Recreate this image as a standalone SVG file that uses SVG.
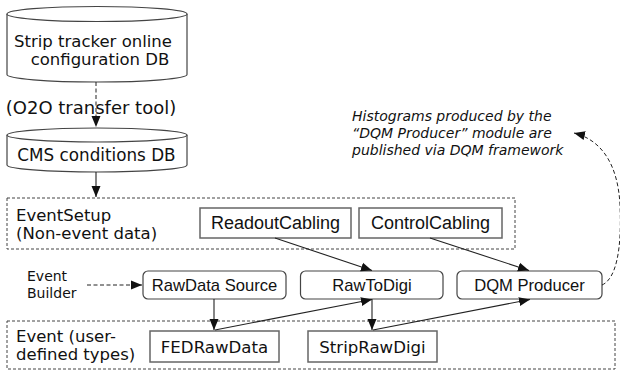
<svg xmlns="http://www.w3.org/2000/svg" width="620" height="371" viewBox="0 0 620 371">
<style>
.v{font-family:"DejaVu Sans","Verdana",sans-serif;fill:#111}
.a{font-family:"Liberation Sans","Arial",sans-serif;fill:#111}
.cyl{fill:#fff;stroke:#444;stroke-width:1.2}
.grp{fill:none;stroke:#444;stroke-width:1;stroke-dasharray:3,2}
.sq{fill:#fff;stroke:#666;stroke-width:1.5}
.rd{fill:#fff;stroke:#444;stroke-width:1.2}
.ln{fill:none;stroke:#222;stroke-width:1.1}
.ds{fill:none;stroke:#222;stroke-width:1;stroke-dasharray:4,2.5}
</style>
<defs>
<marker id="ah" markerUnits="userSpaceOnUse" markerWidth="12" markerHeight="10" refX="11" refY="5" orient="auto">
<path d="M0,0.5 L11,5 L0,9.5 z" fill="#111"/>
</marker>
</defs>

<g id="stripdb">
<path class="cyl" d="M7,14 L7,74.5 A90,7.5 0 0 0 187,74.5 L187,14"/>
<ellipse class="cyl" cx="97" cy="14" rx="90" ry="7.5"/>
<text class="v" x="93" y="46.5" font-size="16.5" text-anchor="middle">Strip tracker online</text>
<text class="v" x="100" y="65" font-size="16.5" text-anchor="middle">configuration DB</text>
</g>

<g id="cmsdb">
<path class="cyl" d="M7,135 L7,165 A90,7 0 0 0 187,165 L187,135"/>
<ellipse class="cyl" cx="97" cy="135" rx="90" ry="7"/>
<text class="v" x="96.5" y="161" font-size="16.8" text-anchor="middle">CMS conditions DB</text>
</g>

<g id="eventsetup">
<rect class="grp" x="7" y="198" width="508" height="51"/>
<text class="v" x="16" y="220.5" font-size="16.5">EventSetup</text>
<text class="v" x="16" y="239" font-size="16.5">(Non-event data)</text>
</g>

<g id="event">
<rect class="grp" x="7" y="321" width="608" height="48"/>
<text class="v" x="16" y="341.5" font-size="16.5">Event (user-</text>
<text class="v" x="16" y="360" font-size="16.5">defined types)</text>
</g>

<g id="readoutcabling">
<rect class="sq" x="200" y="208" width="151" height="30"/>
<text class="a" x="275.5" y="229" font-size="18" text-anchor="middle">ReadoutCabling</text>
</g>

<g id="controlcabling">
<rect class="sq" x="359" y="208" width="143" height="30"/>
<text class="a" x="430.5" y="229" font-size="18" text-anchor="middle">ControlCabling</text>
</g>

<g id="eventbuilder">
<text class="v" x="27" y="281" font-size="14">Event</text>
<text class="v" x="27" y="298" font-size="14">Builder</text>
</g>

<g id="rawdatasource">
<rect class="rd" x="143" y="271" width="143" height="28" rx="5"/>
<text class="a" x="214.5" y="291" font-size="16.6" text-anchor="middle">RawData Source</text>
</g>

<g id="rawtodigi">
<rect class="rd" x="300.5" y="271" width="142.5" height="28" rx="5"/>
<text class="a" x="372" y="291" font-size="16.6" text-anchor="middle">RawToDigi</text>
</g>

<g id="dqmproducer">
<rect class="rd" x="457" y="271" width="145" height="28" rx="5"/>
<text class="a" x="529.5" y="291" font-size="16.6" text-anchor="middle">DQM Producer</text>
</g>

<g id="fedrawdata">
<rect class="sq" x="150" y="331" width="129" height="31"/>
<text class="v" x="214.5" y="353" font-size="16.6" text-anchor="middle">FEDRawData</text>
</g>

<g id="striprawdigi">
<rect class="sq" x="308" y="331" width="129" height="31"/>
<text class="v" x="372.5" y="353" font-size="16.6" text-anchor="middle">StripRawDigi</text>
</g>

<g id="histnote">
<text class="v" x="352" y="121" font-size="14" font-style="italic">Histograms produced by the</text>
<text class="v" x="352" y="138" font-size="14" font-style="italic">“DQM Producer” module are</text>
<text class="v" x="352" y="155" font-size="14" font-style="italic">published via DQM framework</text>
</g>

<g id="o2olabel">
<text class="v" x="91" y="114" font-size="18" text-anchor="middle">(O2O transfer tool)</text>
</g>

<g id="connectors">
<line class="ds" x1="96" y1="82" x2="96" y2="127" marker-end="url(#ah)"/>
<line class="ln" x1="96" y1="172" x2="96" y2="197" marker-end="url(#ah)"/>
<line class="ds" x1="87" y1="285" x2="142" y2="285" marker-end="url(#ah)"/>
<line class="ln" x1="214" y1="299" x2="214" y2="330" marker-end="url(#ah)"/>
<line class="ln" x1="215" y1="330" x2="372" y2="299.5" marker-end="url(#ah)"/>
<line class="ln" x1="275" y1="238" x2="372" y2="270.5" marker-end="url(#ah)"/>
<line class="ln" x1="372" y1="299" x2="372" y2="330" marker-end="url(#ah)"/>
<line class="ln" x1="373" y1="330" x2="530" y2="299.5" marker-end="url(#ah)"/>
<line class="ln" x1="430" y1="238" x2="529" y2="270.5" marker-end="url(#ah)"/>
<path class="ds" d="M602,285 C616,279 622,250 620,205 C618,165 602,140 574,133" marker-end="url(#ah)"/>
</g>
</svg>
